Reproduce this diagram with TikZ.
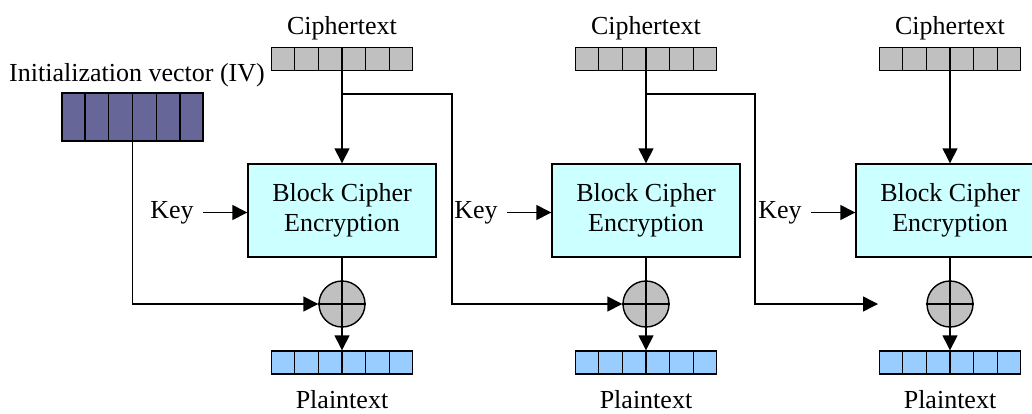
\documentclass[tikz,border=0pt]{standalone}
\usepackage{fontspec}
\setmainfont{Liberation Serif}
\usepackage{tikz}
\usetikzlibrary{calc, arrows.meta}

\definecolor{ctgray}{HTML}{C0C0C0}
\definecolor{ivblue}{HTML}{666699}
\definecolor{ptblue}{HTML}{99CCFF}
\definecolor{boxcyan}{HTML}{CCFFFF}

\tikzset{
    arr/.style={-{Triangle[length=7.5pt,width=7.5pt]}},
    bar/.style={draw, rectangle, inner sep=0pt, minimum width=70.5pt, minimum height=11.5pt},
    cipherbox/.style={draw, rectangle, fill=boxcyan, align=center, minimum width=94pt, minimum height=46.5pt, inner sep=0pt},
    xorop/.style={draw, circle, fill=ctgray, minimum size=23pt, inner sep=0pt},
    lbl/.style={inner sep=4.3pt}
}

\begin{document}
\begin{tikzpicture}[x=0.5pt, y=-0.5pt, line width=0.7pt, font=\fontsize{13}{15}\selectfont]
        \useasboundingbox (0,0) rectangle (1032,413);
        \clip (0,0) rectangle (1032,413);

        % Initialization vector
        \node[bar, fill=ivblue, minimum height=24pt] (iv) at (132.5,117) {};
        \foreach \k in {1,...,5}
            \draw ($(iv.south west)!\k/6!(iv.south east)$) -- ($(iv.north west)!\k/6!(iv.north east)$);
        \node (ivlabel) at (137,75) {Initialization vector (IV)};

        % Decryption stages
        \foreach \i/\c in {1/342,2/646,3/950} {
            \node (cttext\i) at (\c,28) {Ciphertext};
            \node[bar, fill=ctgray] (ct\i) at (\c,59) {};
            \node[cipherbox] (box\i) at (\c,210.5) {Block Cipher\\Encryption};
            \node[lbl] (key\i) at (\c-170,212.5) {Key};
            \node[xorop] (xor\i) at (\c,304) {};
            \node[bar, fill=ptblue] (pt\i) at (\c,362.5) {};
            \node (pttext\i) at (\c,400) {Plaintext};
            \foreach \k in {1,...,5} {
                \draw ($(ct\i.south west)!\k/6!(ct\i.south east)$) -- ($(ct\i.north west)!\k/6!(ct\i.north east)$);
                \draw ($(pt\i.south west)!\k/6!(pt\i.south east)$) -- ($(pt\i.north west)!\k/6!(pt\i.north east)$);
            }
            \draw[arr] (ct\i) -- (box\i);
            \draw[arr] (key\i.east) -- (key\i.east -| box\i.west);
            \draw (xor\i.west) -- (xor\i.east);
            \draw[arr] (box\i) -- (pt\i);
        }

        % Chaining
        \coordinate (br1) at (342,94);
        \coordinate (turn1) at (452,94);
        \coordinate (br2) at (646,94);
        \coordinate (turn2) at (755,94);
        \coordinate (end3) at (878,304);
        \draw[arr] (iv.south) |- (xor1.west);
        \draw[arr] (br1) -- (turn1) |- (xor2.west);
        \draw[arr] (br2) -- (turn2) |- (end3);
    \end{tikzpicture}
\end{document}
